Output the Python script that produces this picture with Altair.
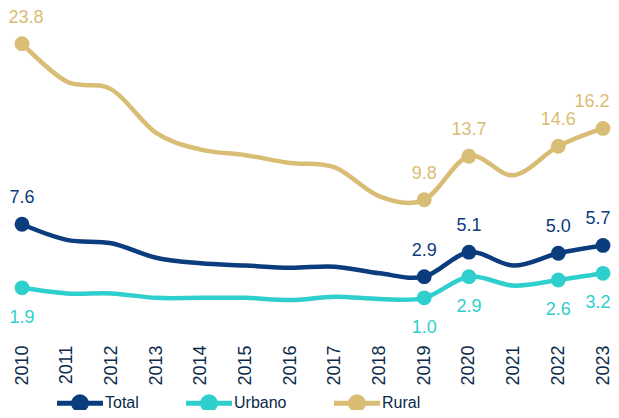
import altair as alt
import pandas as pd

years = [str(y) for y in range(2010, 2024)]
total = [7.6, 6.2, 5.9, 4.6, 4.1, 3.9, 3.7, 3.8, 3.2, 2.9, 5.1, 3.9, 5.0, 5.7]
urbano = [1.9, 1.4, 1.4, 1.0, 1.0, 1.0, 0.8, 1.1, 0.9, 1.0, 2.9, 2.1, 2.6, 3.2]
rural = [23.8, 20.4, 19.7, 15.8, 14.3, 13.8, 13.1, 12.7, 10.1, 9.8, 13.7, 12.0, 14.6, 16.2]
labelled_years = ["2010", "2019", "2020", "2022", "2023"]
series = ["Total", "Urbano", "Rural"]
colors = ["#0B3C7D", "#2ECFCC", "#D9BD74"]

rows = []
for name, vals in zip(series, [total, urbano, rural]):
    for yr, v in zip(years, vals):
        rows.append({"year": yr, "serie": name, "value": v,
                     "marked": yr in labelled_years})
df = pd.DataFrame(rows)

FONT = "Liberation Sans"

x = alt.X("year:O", title=None,
          scale=alt.Scale(type="point", range=[14, 595], padding=0),
          axis=alt.Axis(labelAngle=-90, labelFontSize=18, labelColor="#0B2A4A",
                        labelFont=FONT, ticks=False, domain=False, grid=False,
                        labelPadding=36, labelBaseline="middle", labelAlign="right"))
y = alt.Y("value:Q", title=None, scale=alt.Scale(domain=[0, 27.0], nice=False, zero=False),
          axis=None)
color = alt.Color("serie:N", title=None,
                  scale=alt.Scale(domain=series, range=colors),
                  legend=alt.Legend(orient="none", legendX=54, legendY=377,
                                    direction="horizontal", columns=3, padding=0,
                                    symbolType="M-1.5,0H1.5M0.42,0A0.42,0.42,0,1,1,-0.42,0A0.42,0.42,0,1,1,0.42,0",
                                    symbolSize=940, symbolStrokeWidth=5,
                                    labelFontSize=16, labelFont=FONT, labelColor="#0B2A4A",
                                    columnPadding=37, labelOffset=7))
nolegend = alt.Color("serie:N", scale=alt.Scale(domain=series, range=colors), legend=None)

base = alt.Chart(df)

lines = base.mark_line(interpolate="cardinal", strokeWidth=4.5).encode(
    x=x, y=y, color=color, detail="serie:N")

points = base.transform_filter("datum.marked").mark_circle(size=220, opacity=1).encode(
    x=x, y=y, color=nolegend)

shift = ("datum.year == '2023' ? (datum.serie == 'Rural' ? -11 : -5) : "
         "(datum.year == '2010' && datum.serie == 'Rural' ? 4 : 0)")

labels_up = base.transform_filter("datum.marked && datum.serie != 'Urbano'").mark_text(
    dy=-26, fontSize=18, font=FONT, dx=alt.expr(shift)).encode(
    x=x, y=y, text=alt.Text("value:Q", format=".1f"), color=nolegend)

labels_down = base.transform_filter("datum.marked && datum.serie == 'Urbano'").mark_text(
    dy=30, fontSize=18, font=FONT, dx=alt.expr(shift)).encode(
    x=x, y=y, text=alt.Text("value:Q", format=".1f"), color=nolegend)

chart = alt.layer(lines, points, labels_up, labels_down).properties(
    width=603, height=301,
    padding={"left": 0, "top": 0, "right": 0, "bottom": 101},
    autosize=alt.AutoSizeParams(type="none"),
    background="white"
).configure_view(stroke=None)

chart.save("out.html", embed_options={"renderer": "svg", "actions": False})
